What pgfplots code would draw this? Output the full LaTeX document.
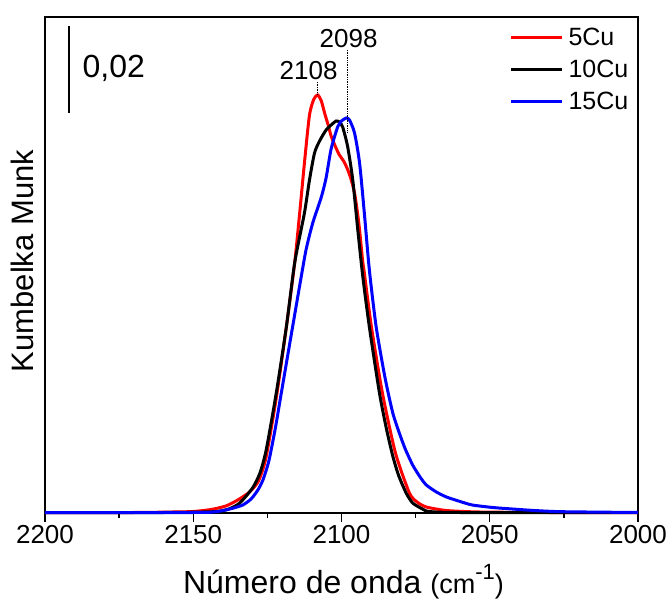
\documentclass[border=0pt]{standalone}
\usepackage{fontspec}
\setmainfont{Liberation Sans}
\usepackage{pgfplots}
\pgfplotsset{compat=1.18}
\usepackage{pgfplotstable}

\pgfplotstableread{
x y
2200 0.5
2170 0.5
2157 1
2150 1.5
2144 3.5
2139 7
2135 13
2131 21
2128 32
2125.5 55
2122 115
2118.6 186
2115.8 250
2114.1 300
2112.5 350
2110.8 398
2109.3 414
2108 418
2106.8 412
2105.7 400
2104.5 388
2103.5 377
2102 366
2100.7 358
2099.3 352
2098 344
2096.8 334
2095.6 320
2094.6 300
2093.9 283
2092.9 253
2092.3 240
2089.9 186
2086.2 120
2081.8 60
2077.1 20
2074.5 11
2071.4 6
2064.6 2.5
2053.5 1
2030 0.5
2000 0.5
}\redtab

\pgfplotstableread{
x y
2200 0.5
2160 0.5
2150 0.8
2142 1.5
2138 4
2134.3 10
2130 25
2127.5 40
2125.4 63
2122 120
2118.6 186
2115.8 250
2112.5 300
2110.8 333
2109.1 360
2107.4 372
2105.2 383
2103.5 388
2101.8 392
2100.7 391
2099.6 386
2097.9 366
2096.2 333
2094.5 283
2092.8 236
2090.6 186
2087.2 120
2084.9 85
2082.8 58
2080.8 38
2078.2 20
2076 10
2072.7 4
2070.4 1.5
2060 0.5
2000 0.5
}\blacktab

\pgfplotstableread{
x y
2200 0.5
2150 0.5
2142.2 1.3
2137 4.5
2133.3 8
2130.5 14
2128.2 23
2126.5 33
2124.5 52
2122.3 85
2120.3 120
2116.5 186
2113.6 236
2111.9 264
2109.7 290
2106.8 316
2105.2 335
2103.5 364
2101.3 386
2100 392
2098.4 395
2097.3 393
2095.6 380
2093.9 350
2092.3 300
2090.6 243
2088.3 186
2085.3 135
2082.7 100
2080.5 80
2078.5 64
2076 48
2073.5 36
2071.4 28
2068 21
2064.6 16
2060 11.5
2055.9 8
2049 5.5
2042.4 4
2035 2.5
2025.6 1.3
2000 0.5
}\bluetab

\begin{document}
\begin{tikzpicture}
\begin{axis}[
  name=ax,
  scale only axis,
  width=593pt, height=496pt,
  xmin=2000, xmax=2200, ymin=0, ymax=496,
  x dir=reverse,
  clip=false,
  xtick={2000,2050,2100,2150,2200},
  minor x tick num=1,
  xtick pos=bottom,
  ytick=\empty,
  tick align=outside,
  major tick length=9pt,
  minor tick length=5pt,
  every tick/.style={line width=1.3pt, black},
  axis line style={line width=1.5pt},
  /pgf/number format/assume math mode=true,
  /pgf/number format/set thousands separator={},
  xticklabel style={font=\fontsize{26}{30}\selectfont},
  every axis x label/.style={at={(axis description cs:0.5,0)}, anchor=base, yshift=-80pt, xshift=2pt, font=\fontsize{32}{36}\selectfont},
  every axis y label/.style={at={(axis description cs:-0.0202,0.508)}, rotate=90, anchor=base, font=\fontsize{31}{36}\selectfont},
  xlabel={Número de onda {\fontsize{27}{30}\selectfont (cm\raisebox{0.5em}{\fontsize{22}{24}\selectfont -1})}},
  ylabel={Kumbelka Munk},
  legend cell align=left,
  legend style={at={(axis description cs:0.783,1)}, anchor=north west, yshift=-9pt,
    draw=none, fill=none, inner sep=0pt, row sep=9pt, font=\fontsize{25}{28}\selectfont,
    /tikz/every odd column/.append style={column sep=3pt}},
  legend image code/.code={\draw[#1, line width=3pt] (0pt,0pt) -- (51pt,0pt);},
]
\addplot[red, line width=3pt, smooth, tension=0.4] table[x=x, y=y] {\redtab};
\addlegendentry{5Cu}
\addplot[black, line width=3pt, smooth, tension=0.4] table[x=x, y=y] {\blacktab};
\addlegendentry{10Cu}
\addplot[blue, line width=3pt, smooth, tension=0.4] table[x=x, y=y] {\bluetab};
\addlegendentry{15Cu}
% scale bar
\draw[line width=2.4pt] (axis cs:2191.9,400) -- (axis cs:2191.9,487);
\node[anchor=base, font=\fontsize{32}{36}\selectfont] at (axis cs:2176.8,435) {0,02};
% peak annotations
\draw[densely dotted, line width=0.7pt] (axis cs:2108.1,431) -- (axis cs:2108.1,418);
\draw[densely dotted, line width=0.7pt] (axis cs:2098.1,463) -- (axis cs:2098.1,381);
\node[anchor=base, font=\fontsize{26}{30}\selectfont] at (axis cs:2111.1,433) {2108};
\node[anchor=base, font=\fontsize{26}{30}\selectfont] at (axis cs:2097.6,465) {2098};
\end{axis}
\pgfresetboundingbox
\path[use as bounding box] ([xshift=-45pt,yshift=-88pt]ax.south west) rectangle ([xshift=30pt,yshift=17pt]ax.north east);
\end{tikzpicture}
\end{document}
